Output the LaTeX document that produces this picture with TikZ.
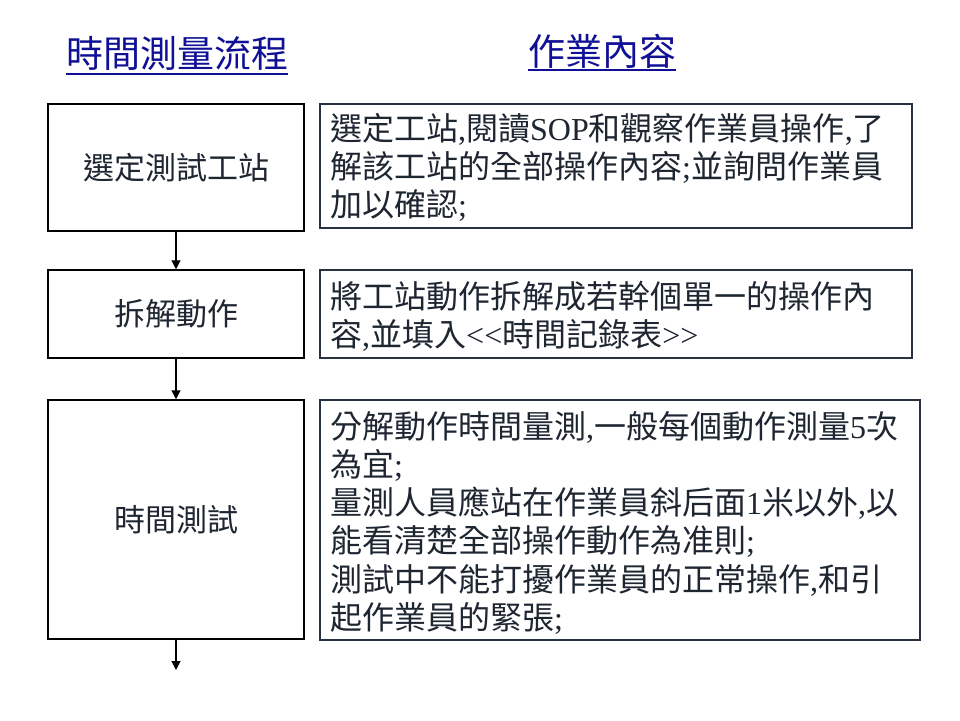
\documentclass[tikz,border=0pt]{standalone}
\usepackage{fontspec}
\setmainfont{Liberation Serif}
\newfontfamily\cjk{Noto Sans CJK TC}
\usetikzlibrary{arrows.meta}
\newcommand\zh[1]{{\cjk #1}}
\definecolor{titleblue}{RGB}{16,16,150}
\definecolor{txt}{RGB}{30,38,50}
\definecolor{rbord}{RGB}{40,50,64}
\begin{document}
\begin{tikzpicture}[x=1pt,y=-1pt,
  stepbox/.style={draw=black,line width=1.5pt,rectangle,minimum width=256pt,inner sep=0pt,
    text=txt,font={\cjk\fontsize{31}{37.5}\selectfont}},
  descbox/.style={draw=rbord,line width=1.2pt,rectangle,inner sep=0pt},
  desctext/.style={anchor=north west,inner sep=0pt,align=left,text=txt,
    font={\fontsize{32}{38.2}\selectfont}},
  titletext/.style={inner sep=0pt,text=titleblue,font={\cjk\fontsize{37}{40}\selectfont}},
  uline/.style={draw=titleblue,line width=2pt},
  arr/.style={draw=black,line width=1.2pt,-{Triangle[width=9pt,length=9pt]}}
]
\useasboundingbox[fill=white] (0,0) rectangle (960,720);

% titles
\node[titletext] (t1) at (177,53) {時間測量流程};
\node[titletext] (t2) at (602,51) {作業內容};
\draw[uline] ([yshift=-4pt]t1.south west) -- ([yshift=-4pt]t1.south east);
\draw[uline] ([yshift=-2pt]t2.south west) -- ([yshift=-2pt]t2.south east);

% left step boxes
\node[stepbox,minimum height=127pt] (l1) at (176,167.5) {選定測試工站};
\node[stepbox,minimum height=88pt] (l2) at (176,314) {拆解動作};
\node[stepbox,minimum height=239pt] (l3) at (176,519.5) {時間測試};

% right description boxes
\node[descbox,minimum width=592pt,minimum height=124pt] (r1) at (616,166) {};
\node[descbox,minimum width=592pt,minimum height=88pt] (r2) at (616,314) {};
\node[descbox,minimum width=600pt,minimum height=240pt] (r3) at (620,520) {};

\node[desctext] (d1) at (330,113) {\zh{選定工站},\zh{閱讀}SOP\zh{和觀察作業員操作},\zh{了}\\
\zh{解該工站的全部操作內容};\zh{並詢問作業員}\\
\zh{加以確認};};
\node[desctext] (d2) at (330,281) {\zh{將工站動作拆解成若幹個單一的操作內}\\
\zh{容},\zh{並填入}<\kern0pt<\zh{時間記錄表}>\kern0pt>};
\node[desctext] (d3) at (330,411) {\zh{分解動作時間量測},\zh{一般每個動作測量}5\zh{次}\\
\zh{為宜};\\
\zh{量測人員應站在作業員斜后面}1\zh{米以外},\zh{以}\\
\zh{能看清楚全部操作動作為准則};\\
\zh{測試中不能打擾作業員的正常操作},\zh{和引}\\
\zh{起作業員的緊張};};

% arrows
\coordinate (e) at (176,670);
\draw[arr] (l1) -- (l2);
\draw[arr] (l2) -- (l3);
\draw[arr] (l3) -- (e);
\end{tikzpicture}
\end{document}
